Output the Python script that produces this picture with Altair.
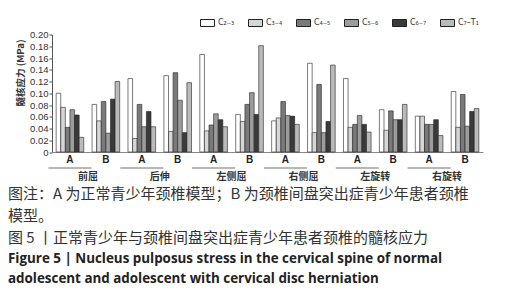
import altair as alt
import pandas as pd

groups = ["前屈", "后伸", "左侧屈", "右侧屈", "左旋转", "右旋转"]
models = ["A", "B"]
segments = ["C₂₋₃", "C₃₋₄", "C₄₋₅", "C₅₋₆", "C₆₋₇", "C₇–T₁"]

c23 = [0.100, 0.081, 0.125, 0.130, 0.166, 0.064, 0.053, 0.151, 0.125, 0.072, 0.061, 0.103]
c34 = [0.076, 0.053, 0.023, 0.035, 0.036, 0.052, 0.058, 0.033, 0.042, 0.037, 0.061, 0.042]
c45 = [0.042, 0.086, 0.081, 0.135, 0.046, 0.081, 0.086, 0.115, 0.047, 0.070, 0.047, 0.098]
c56 = [0.072, 0.032, 0.043, 0.088, 0.065, 0.101, 0.062, 0.033, 0.062, 0.055, 0.047, 0.044]
c67 = [0.063, 0.090, 0.069, 0.033, 0.055, 0.064, 0.061, 0.052, 0.047, 0.055, 0.055, 0.069]
c7t1 = [0.025, 0.120, 0.043, 0.118, 0.043, 0.181, 0.047, 0.148, 0.034, 0.081, 0.028, 0.074]

y_title = "髓核应力 (MPa)"
captions_cn = [
    "图注：A 为正常青少年颈椎模型；B 为颈椎间盘突出症青少年患者颈椎",
    "模型。",
    "图 5 丨正常青少年与颈椎间盘突出症青少年患者颈椎的髓核应力",
]
captions_en = [
    "Figure 5  |  Nucleus pulposus stress in the cervical spine of normal",
    "adolescent and adolescent with cervical disc herniation",
]

fills = ["#ffffff", "#d6d6d6", "#7a7a7a", "#9c9c9c", "#3a3a3a", "#bababa"]

series_values = [c23, c34, c45, c56, c67, c7t1]
keys = [f"{g}|{m}" for g in groups for m in models]
rows = []
for s, vals in zip(segments, series_values):
    for k, v in zip(keys, vals):
        rows.append({"key": k, "seg": s, "val": v})
df = pd.DataFrame(rows)
gdf = pd.DataFrame({"key": [f"{g}|A" for g in groups], "name": groups})

W, H = 431, 117.5
CJK = "Noto Sans CJK SC"
LAT = "Liberation Sans"

xscale = alt.Scale(domain=keys, paddingInner=0, paddingOuter=0)

bars = alt.Chart(df).mark_bar(stroke="#222", strokeWidth=0.6).encode(
    x=alt.X("key:N", scale=xscale, sort=keys,
            axis=alt.Axis(title=None, labelExpr="split(datum.value,'|')[1]", labelAngle=0,
                          ticks=False, labelFont=LAT, labelFontWeight="bold", labelFontSize=10,
                          labelColor="#222", labelPadding=2, domainColor="#888", domainWidth=1)),
    xOffset=alt.XOffset("seg:N", sort=segments, scale=alt.Scale(paddingOuter=0.9, paddingInner=0)),
    y=alt.Y("val:Q", scale=alt.Scale(domain=[0, 0.2], nice=False),
            axis=alt.Axis(title=y_title, values=[0, 0.02, 0.04, 0.06, 0.08, 0.1, 0.12, 0.14, 0.16, 0.18, 0.2],
                          labelExpr="datum.value == 0 ? '0' : format(datum.value, '.2f')",
                          labelFont=LAT, labelFontSize=9.5, labelColor="#333", labelPadding=1,
                          tickSize=3, tickColor="#555", domainColor="#555", grid=False,
                          titleFont=CJK, titleFontSize=9.5, titleFontWeight="bold", titleColor="#333",
                          titleX=-32, titleY=38, titleAngle=-90, titleAlign="center", titleBaseline="middle")),
    fill=alt.Fill("seg:N", sort=segments, scale=alt.Scale(domain=segments, range=fills),
                  legend=alt.Legend(title=None, orient="none", legendX=148, legendY=-19,
                                    direction="horizontal", columns=6, gridAlign="all",
                                    symbolType="M-1,-0.5H1V0.5H-1Z", symbolSize=196,
                                    symbolStrokeColor="#222", symbolStrokeWidth=1,
                                    labelFont="DejaVu Sans", labelFontSize=8, labelColor="#333",
                                    labelOffset=3, columnPadding=7)),
)

gline = alt.Chart(gdf).mark_tick(orient="horizontal", size=43, thickness=1, color="#333").encode(
    x=alt.X("key:N", scale=xscale, bandPosition=1),
    y=alt.value(H + 16),
)
glab = alt.Chart(gdf).mark_text(font=CJK, fontSize=10, fontWeight="bold", color="#333",
                                baseline="middle").encode(
    x=alt.X("key:N", scale=xscale, bandPosition=1),
    y=alt.value(H + 25),
    text="name:N",
)

cap_specs_cn = [(captions_cn[0], 159.5, 15), (captions_cn[1], 181.5, 15), (captions_cn[2], 203.5, 15)]
cap_y_en = [224, 244]
caps = []
for t, yy, fs in cap_specs_cn:
    caps.append(alt.Chart(pd.DataFrame({"t": [t]})).mark_text(
        font=CJK, fontSize=fs, color="#333", align="left", baseline="middle").encode(
        x=alt.value(-44), y=alt.value(yy), text="t:N"))
for t, yy in zip(captions_en, cap_y_en):
    caps.append(alt.Chart(pd.DataFrame({"t": [t]})).mark_text(
        font="Open Sans", fontSize=13.4, fontWeight="bold", color="#222",
        align="left", baseline="middle").encode(
        x=alt.value(-44), y=alt.value(yy), text="t:N"))

chart = alt.layer(bars, gline, glab, *caps).properties(
    width=W, height=H,
    padding={"left": 44, "top": 26.5, "right": 18, "bottom": 140},
    autosize=alt.AutoSizeParams(type="none"),
).configure_view(stroke=None)

chart.save("out.html", embed_options={"renderer": "svg", "actions": False})
